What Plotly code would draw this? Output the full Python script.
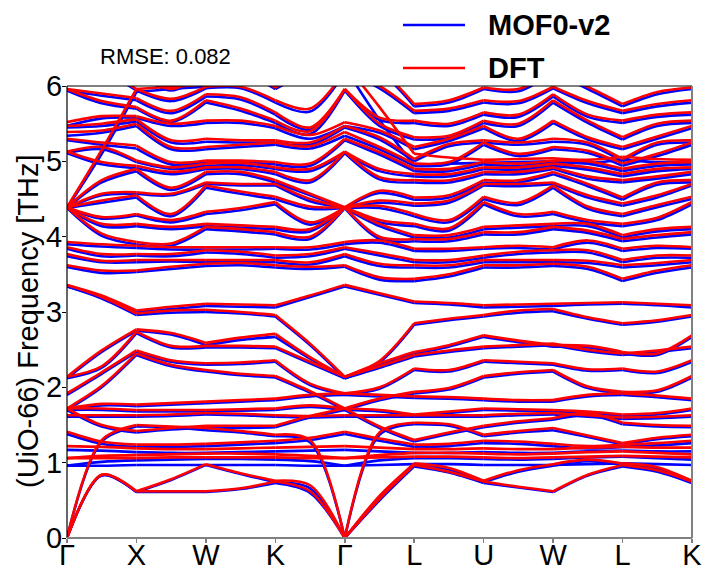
import plotly.graph_objects as go

# ---------------- path / ticks ----------------
KPATH_X = [0, 0.5, 1, 1.5, 2, 2.5, 3, 3.5, 4, 4.5, 5, 5.5, 6, 6.5, 7, 7.5, 8, 8.5, 9]
TICK_POS = [0, 1, 2, 3, 4, 5, 6, 7, 8, 9]
TICK_LABELS = ["Γ", "X", "W", "K", "Γ", "L", "U", "W", "L", "K"]
Y_TICKS = [0, 1, 2, 3, 4, 5, 6]
RMSE_TEXT = "RMSE: 0.082"
SERIES_NAMES = ["MOF0-v2", "DFT"]

# ---------------- low-frequency bands (one list per band, 19 path points) ----------------
LOW_DFT = [
    [0.00, 0.84, 0.62, 0.62, 0.62, 0.66, 0.75, 0.62, 0.00, 0.52, 0.97, 0.88, 0.75, 0.68, 0.62, 0.84, 0.97, 0.90, 0.75],
    [0.00, 0.84, 0.62, 0.78, 0.98, 0.86, 0.76, 0.70, 0.00, 0.56, 0.99, 0.93, 0.76, 0.90, 0.98, 1.04, 0.99, 0.94, 0.76],
    [0.00, 1.30, 1.50, 1.48, 1.46, 1.42, 1.37, 1.30, 0.00, 1.40, 1.53, 1.51, 1.37, 1.42, 1.46, 1.36, 1.26, 1.33, 1.37],
    [1.06, 1.06, 1.06, 1.07, 1.07, 1.07, 1.07, 1.06, 1.06, 1.07, 1.08, 1.08, 1.07, 1.06, 1.07, 1.08, 1.09, 1.08, 1.07],
    [1.06, 1.09, 1.10, 1.11, 1.12, 1.12, 1.11, 1.09, 1.06, 1.10, 1.13, 1.13, 1.12, 1.11, 1.12, 1.14, 1.15, 1.13, 1.11],
    [1.22, 1.21, 1.19, 1.18, 1.18, 1.19, 1.20, 1.21, 1.22, 1.20, 1.18, 1.18, 1.19, 1.18, 1.18, 1.20, 1.21, 1.20, 1.20],
    [1.41, 1.28, 1.24, 1.24, 1.25, 1.27, 1.29, 1.33, 1.41, 1.32, 1.24, 1.25, 1.29, 1.28, 1.25, 1.22, 1.24, 1.26, 1.29],
    [1.72, 1.50, 1.42, 1.46, 1.49, 1.49, 1.49, 1.62, 1.72, 1.48, 1.30, 1.40, 1.49, 1.55, 1.59, 1.66, 1.53, 1.50, 1.49],
    [1.63, 1.63, 1.63, 1.64, 1.66, 1.65, 1.63, 1.62, 1.63, 1.63, 1.63, 1.63, 1.63, 1.65, 1.66, 1.63, 1.60, 1.61, 1.63],
    [1.72, 1.72, 1.70, 1.70, 1.70, 1.71, 1.72, 1.76, 1.72, 1.70, 1.64, 1.68, 1.72, 1.71, 1.70, 1.68, 1.64, 1.66, 1.72],
    [1.72, 1.78, 1.77, 1.79, 1.81, 1.83, 1.85, 1.90, 1.92, 1.90, 1.88, 1.87, 1.85, 1.83, 1.83, 1.90, 1.92, 1.89, 1.85],
    [1.72, 2.02, 2.45, 2.30, 2.23, 2.18, 2.15, 1.95, 1.72, 1.85, 1.94, 1.99, 2.15, 2.20, 2.23, 2.01, 1.94, 1.96, 2.15],
    [1.92, 2.20, 2.49, 2.36, 2.32, 2.33, 2.36, 2.05, 1.92, 2.00, 2.25, 2.23, 2.36, 2.34, 2.32, 2.24, 2.25, 2.21, 2.36],
    [2.14, 2.28, 2.74, 2.55, 2.55, 2.55, 2.54, 2.34, 2.14, 2.28, 2.43, 2.49, 2.54, 2.56, 2.58, 2.50, 2.45, 2.49, 2.54],
    [2.14, 2.49, 2.77, 2.72, 2.59, 2.66, 2.71, 2.40, 2.14, 2.32, 2.47, 2.56, 2.69, 2.62, 2.56, 2.55, 2.47, 2.45, 2.69],
    [3.36, 3.20, 2.98, 3.02, 3.03, 3.00, 2.96, 2.58, 2.14, 2.35, 2.85, 2.91, 2.96, 3.02, 3.04, 2.93, 2.85, 2.89, 2.96],
    [3.36, 3.22, 3.02, 3.07, 3.11, 3.10, 3.09, 3.22, 3.36, 3.25, 3.14, 3.12, 3.09, 3.10, 3.11, 3.12, 3.13, 3.11, 3.09],
    # steep branch from the top into L, and steep branch rising from Γ to the top at X
    [6.30, 6.30, 6.30, 6.30, 6.30, 6.30, 6.30, 6.30, 6.30, 5.72, 5.10, 5.05, 5.02, 5.03, 5.04, 5.02, 5.06, 5.03, 5.02],
    [4.39, 5.15, 5.96, 5.99, 6.02, 6.15, 6.30, 6.30, 6.30, 6.30, 6.30, 6.30, 6.30, 6.30, 6.30, 6.30, 6.30, 6.30, 6.30],
]

LOW_MOF = [
    [0.00, 0.83, 0.61, 0.61, 0.61, 0.65, 0.73, 0.60, 0.00, 0.50, 0.95, 0.87, 0.73, 0.67, 0.61, 0.83, 0.95, 0.88, 0.73],
    [0.00, 0.83, 0.61, 0.77, 0.97, 0.85, 0.74, 0.66, 0.00, 0.54, 0.97, 0.91, 0.74, 0.88, 0.96, 1.02, 0.97, 0.92, 0.74],
    [0.00, 1.28, 1.48, 1.47, 1.43, 1.40, 1.35, 1.27, 0.00, 1.37, 1.51, 1.49, 1.35, 1.40, 1.43, 1.34, 1.24, 1.31, 1.35],
    [0.96, 0.96, 0.97, 0.97, 0.97, 0.97, 0.97, 0.96, 0.96, 0.97, 0.98, 0.98, 0.97, 0.97, 0.97, 0.98, 0.99, 0.98, 0.97],
    [0.96, 1.01, 1.03, 1.04, 1.05, 1.05, 1.04, 1.02, 0.96, 1.03, 1.06, 1.06, 1.05, 1.04, 1.05, 1.07, 1.08, 1.06, 1.04],
    [1.17, 1.16, 1.14, 1.13, 1.13, 1.14, 1.15, 1.16, 1.17, 1.15, 1.13, 1.13, 1.14, 1.13, 1.13, 1.15, 1.16, 1.15, 1.15],
    [1.38, 1.25, 1.21, 1.21, 1.22, 1.24, 1.26, 1.30, 1.38, 1.29, 1.21, 1.22, 1.26, 1.25, 1.22, 1.19, 1.21, 1.23, 1.26],
    [1.70, 1.48, 1.40, 1.44, 1.46, 1.46, 1.47, 1.60, 1.70, 1.46, 1.28, 1.38, 1.47, 1.53, 1.57, 1.63, 1.51, 1.48, 1.47],
    [1.61, 1.61, 1.61, 1.62, 1.64, 1.63, 1.61, 1.60, 1.61, 1.61, 1.61, 1.61, 1.61, 1.63, 1.64, 1.61, 1.58, 1.59, 1.61],
    [1.70, 1.70, 1.68, 1.68, 1.68, 1.69, 1.70, 1.74, 1.70, 1.68, 1.62, 1.66, 1.70, 1.69, 1.68, 1.66, 1.62, 1.64, 1.70],
    [1.70, 1.76, 1.75, 1.77, 1.79, 1.81, 1.83, 1.88, 1.90, 1.88, 1.86, 1.85, 1.83, 1.81, 1.81, 1.88, 1.90, 1.87, 1.83],
    [1.70, 2.00, 2.43, 2.28, 2.21, 2.16, 2.13, 1.93, 1.70, 1.83, 1.92, 1.97, 2.13, 2.18, 2.21, 1.99, 1.92, 1.94, 2.13],
    [1.90, 2.18, 2.47, 2.34, 2.30, 2.31, 2.34, 2.03, 1.90, 1.98, 2.23, 2.21, 2.34, 2.32, 2.30, 2.22, 2.23, 2.19, 2.34],
    [2.12, 2.26, 2.72, 2.53, 2.53, 2.53, 2.52, 2.32, 2.12, 2.26, 2.41, 2.47, 2.52, 2.54, 2.56, 2.48, 2.43, 2.47, 2.52],
    [2.12, 2.47, 2.75, 2.70, 2.56, 2.63, 2.67, 2.38, 2.12, 2.30, 2.45, 2.54, 2.67, 2.60, 2.54, 2.53, 2.45, 2.43, 2.67],
    [3.34, 3.18, 2.96, 2.99, 3.00, 2.98, 2.94, 2.56, 2.12, 2.33, 2.83, 2.89, 2.94, 2.99, 3.01, 2.91, 2.83, 2.87, 2.94],
    [3.34, 3.20, 3.00, 3.04, 3.08, 3.07, 3.06, 3.20, 3.34, 3.23, 3.12, 3.10, 3.06, 3.07, 3.08, 3.10, 3.11, 3.09, 3.06],
    [6.30, 6.30, 6.30, 6.30, 6.30, 6.30, 6.30, 6.30, 6.25, 5.55, 4.95, 4.97, 4.98, 4.99, 5.00, 4.98, 5.02, 4.99, 4.98],
    [4.38, 5.10, 5.92, 5.96, 5.99, 6.12, 6.30, 6.30, 6.30, 6.30, 6.30, 6.30, 6.30, 6.30, 6.30, 6.30, 6.30, 6.30, 6.30],
]

# ---------------- upper bands, stored per q-point (sorted frequencies, THz) ----------------
G_DFT   = [3.62, 3.77, 3.86, 3.93, 4.39, 4.39, 4.39, 4.39, 4.39, 4.39, 5.13, 5.13, 5.30, 5.39, 5.47, 5.52, 5.96, 5.96, 6.20, 6.30]
GX_DFT  = [3.55, 3.68, 3.77, 3.90, 4.04, 4.17, 4.26, 4.48, 4.57, 4.75, 4.99, 5.19, 5.25, 5.41, 5.50, 5.60, 5.80, 5.90, 6.20, 6.30]
X_DFT   = [3.55, 3.69, 3.77, 3.88, 3.93, 4.17, 4.30, 4.55, 4.59, 4.90, 4.94, 5.01, 5.21, 5.50, 5.56, 5.60, 5.72, 5.84, 5.96, 6.20]
XW_DFT  = [3.60, 3.69, 3.77, 3.86, 3.91, 4.13, 4.22, 4.30, 4.57, 4.65, 4.86, 4.92, 4.99, 5.19, 5.28, 5.50, 5.54, 5.67, 5.83, 5.96]
W_DFT   = [3.64, 3.69, 3.82, 3.86, 4.13, 4.17, 4.33, 4.68, 4.72, 4.86, 4.92, 4.97, 5.01, 5.19, 5.30, 5.54, 5.81, 5.89, 5.99, 6.20]
WK_DFT  = [3.65, 3.69, 3.80, 3.86, 4.10, 4.15, 4.38, 4.60, 4.70, 4.86, 4.92, 4.98, 5.01, 5.22, 5.28, 5.54, 5.70, 5.85, 5.99, 6.20]
K_DFT   = [3.62, 3.69, 3.75, 3.86, 4.06, 4.13, 4.46, 4.53, 4.70, 4.75, 4.86, 4.92, 4.99, 5.25, 5.28, 5.47, 5.54, 5.65, 5.81, 5.98]
KG_DFT  = [3.60, 3.66, 3.77, 3.86, 4.00, 4.10, 4.19, 4.40, 4.50, 4.57, 4.75, 4.90, 4.97, 5.20, 5.25, 5.35, 5.40, 5.45, 5.70, 6.20]
GL_DFT  = [3.46, 3.64, 3.78, 3.95, 4.00, 4.17, 4.22, 4.41, 4.48, 4.61, 4.79, 4.90, 5.12, 5.19, 5.32, 5.41, 5.50, 5.58, 6.00, 6.20]
L_DFT   = [3.44, 3.62, 3.69, 3.84, 3.97, 4.02, 4.17, 4.30, 4.44, 4.52, 4.75, 4.83, 4.90, 4.97, 5.03, 5.19, 5.32, 5.54, 5.67, 5.76]
LU_DFT  = [3.50, 3.62, 3.69, 3.84, 3.97, 4.02, 4.11, 4.22, 4.48, 4.55, 4.75, 4.83, 4.90, 4.99, 5.23, 5.30, 5.34, 5.50, 5.70, 5.81]
UW_DFT  = [3.62, 3.69, 3.80, 3.88, 4.06, 4.15, 4.30, 4.45, 4.70, 4.75, 4.86, 4.92, 4.97, 5.10, 5.25, 5.30, 5.50, 5.62, 5.80, 5.96]
WL_DFT  = [3.60, 3.68, 3.82, 3.95, 4.08, 4.17, 4.22, 4.40, 4.55, 4.70, 4.80, 4.92, 5.00, 5.14, 5.25, 5.32, 5.54, 5.62, 5.80, 5.99]
LK_DFT  = [3.55, 3.65, 3.75, 3.88, 4.02, 4.10, 4.25, 4.42, 4.55, 4.72, 4.80, 4.90, 4.97, 5.10, 5.25, 5.33, 5.50, 5.62, 5.76, 5.92]

G_MOF   = [3.60, 3.74, 3.84, 3.90, 4.38, 4.38, 4.38, 4.38, 4.38, 4.38, 5.11, 5.11, 5.28, 5.34, 5.45, 5.47, 5.94, 5.94, 6.18, 6.28]
GX_MOF  = [3.52, 3.66, 3.74, 3.87, 4.01, 4.14, 4.24, 4.45, 4.55, 4.72, 4.96, 5.16, 5.22, 5.38, 5.47, 5.57, 5.77, 5.87, 6.18, 6.28]
X_MOF   = [3.53, 3.66, 3.75, 3.85, 3.90, 4.14, 4.28, 4.52, 4.57, 4.87, 4.91, 4.99, 5.17, 5.47, 5.53, 5.58, 5.70, 5.81, 5.94, 6.18]
XW_MOF  = [3.57, 3.67, 3.74, 3.83, 3.88, 4.10, 4.19, 4.27, 4.55, 4.62, 4.83, 4.90, 4.96, 5.16, 5.25, 5.47, 5.52, 5.64, 5.80, 5.94]
W_MOF   = [3.61, 3.66, 3.79, 3.83, 4.10, 4.14, 4.30, 4.65, 4.70, 4.83, 4.90, 4.94, 4.99, 5.16, 5.26, 5.51, 5.78, 5.86, 5.97, 6.18]
WK_MOF  = [3.62, 3.66, 3.77, 3.83, 4.07, 4.12, 4.35, 4.57, 4.68, 4.83, 4.90, 4.95, 4.99, 5.19, 5.25, 5.51, 5.67, 5.82, 5.97, 6.18]
K_MOF   = [3.59, 3.66, 3.72, 3.84, 4.03, 4.10, 4.43, 4.50, 4.68, 4.72, 4.83, 4.90, 4.96, 5.22, 5.25, 5.44, 5.51, 5.62, 5.78, 5.96]
KG_MOF  = [3.57, 3.63, 3.74, 3.83, 3.97, 4.07, 4.16, 4.37, 4.47, 4.55, 4.72, 4.87, 4.94, 5.17, 5.22, 5.30, 5.36, 5.42, 5.66, 6.18]
GL_MOF  = [3.43, 3.61, 3.75, 3.92, 3.97, 4.14, 4.19, 4.38, 4.45, 4.58, 4.76, 4.87, 5.09, 5.16, 5.29, 5.38, 5.47, 5.55, 5.97, 6.18]
L_MOF   = [3.41, 3.59, 3.66, 3.81, 3.94, 3.99, 4.14, 4.27, 4.41, 4.49, 4.72, 4.80, 4.87, 4.94, 5.00, 5.16, 5.29, 5.51, 5.64, 5.73]
LU_MOF  = [3.47, 3.59, 3.66, 3.81, 3.94, 3.99, 4.08, 4.19, 4.45, 4.52, 4.72, 4.80, 4.87, 4.96, 5.20, 5.27, 5.31, 5.47, 5.67, 5.78]
UW_MOF  = [3.59, 3.66, 3.77, 3.85, 4.03, 4.12, 4.27, 4.42, 4.67, 4.72, 4.83, 4.89, 4.94, 5.07, 5.22, 5.27, 5.47, 5.59, 5.77, 5.93]
WL_MOF  = [3.57, 3.65, 3.79, 3.92, 4.05, 4.14, 4.19, 4.37, 4.52, 4.67, 4.77, 4.89, 4.97, 5.11, 5.22, 5.29, 5.51, 5.59, 5.77, 5.96]
LK_MOF  = [3.52, 3.62, 3.72, 3.85, 3.99, 4.07, 4.22, 4.39, 4.52, 4.69, 4.77, 4.87, 4.94, 5.07, 5.22, 5.30, 5.47, 5.59, 5.73, 5.89]

# q-point order along Γ-X-W-K-Γ-L-U-W-L-K (U is equivalent to K)
UP_DFT_Q = [G_DFT, GX_DFT, X_DFT, XW_DFT, W_DFT, WK_DFT, K_DFT, KG_DFT, G_DFT, GL_DFT,
            L_DFT, LU_DFT, K_DFT, UW_DFT, W_DFT, WL_DFT, L_DFT, LK_DFT, K_DFT]
UP_MOF_Q = [G_MOF, GX_MOF, X_MOF, XW_MOF, W_MOF, WK_MOF, K_MOF, KG_MOF, G_MOF, GL_MOF,
            L_MOF, LU_MOF, K_MOF, UW_MOF, W_MOF, WL_MOF, L_MOF, LK_MOF, K_MOF]

COLORS = {"MOF0-v2": "#0000FF", "DFT": "#FF0000"}
FONT = "Liberation Sans, Arial, sans-serif"


def band_rows(low, up_q):
    rows = [list(b) for b in low]
    rows += [list(col) for col in zip(*up_q)]
    return rows


def seg_xy(vals):
    xs, ys = [], []
    for s in range(9):
        i = 2 * s
        xs += [KPATH_X[i], KPATH_X[i + 1], KPATH_X[i + 2], None]
        ys += [vals[i], vals[i + 1], vals[i + 2], None]
    return xs, ys


fig = go.Figure()
for name, low, up in [("MOF0-v2", LOW_MOF, UP_MOF_Q), ("DFT", LOW_DFT, UP_DFT_Q)]:
    for band in band_rows(low, up):
        xs, ys = seg_xy(band)
        fig.add_trace(go.Scatter(
            x=xs, y=ys, mode="lines", showlegend=False, hoverinfo="skip",
            line=dict(color=COLORS[name], width=2.6, shape="spline", smoothing=0.9),
            connectgaps=False,
        ))

W, H = 702, 569
L_M, R_M, T_M, B_M = 67, 10, 86, 31

fig.update_layout(
    width=W, height=H,
    margin=dict(l=L_M, r=R_M, t=T_M, b=B_M, autoexpand=False),
    paper_bgcolor="white", plot_bgcolor="white",
    font=dict(family=FONT, size=29, color="black"),
    xaxis=dict(range=[0, 9], tickmode="array", tickvals=TICK_POS, ticktext=TICK_LABELS,
               showgrid=False, zeroline=False, showline=False, automargin=False,
               ticks="outside", ticklen=4, tickcolor="#808080", tickwidth=1.5,
               ticklabeloverflow="allow", ticklabelstandoff=-13,
               tickfont=dict(size=29, family=FONT)),
    yaxis=dict(range=[0, 6], tickmode="array", tickvals=Y_TICKS,
               showgrid=False, zeroline=False, showline=False, automargin=False,
               ticks="outside", ticklen=4, tickcolor="black", tickwidth=1,
               ticklabeloverflow="allow", ticklabelstandoff=-6,
               tickfont=dict(size=29, family=FONT)),
)

# frame: left/top dark, bottom/right grey
fig.add_shape(type="line", xref="paper", yref="paper", x0=0, x1=0, y0=0, y1=1,
              line=dict(color="black", width=1.2))
fig.add_shape(type="line", xref="paper", yref="paper", x0=0, x1=1, y0=1, y1=1,
              line=dict(color="black", width=1.2))
fig.add_shape(type="line", xref="paper", yref="paper", x0=0, x1=1, y0=0, y1=0,
              line=dict(color="#808080", width=2))
fig.add_shape(type="line", xref="paper", yref="paper", x0=1, x1=1, y0=0, y1=1,
              line=dict(color="#808080", width=2))

pw = W - L_M - R_M
ph = H - T_M - B_M


def px_x(px):
    return (px - L_M) / pw


def px_y(py):
    return (H - B_M - py) / ph


# y-axis title
fig.add_annotation(text="(UiO-66) Frequency [THz]", xref="paper", yref="paper",
                   x=px_x(28), y=px_y(321), textangle=-90, showarrow=False,
                   font=dict(size=29, family=FONT), xanchor="center", yanchor="middle")
# RMSE text
fig.add_annotation(text=RMSE_TEXT, xref="paper", yref="paper",
                   x=px_x(165), y=px_y(56), showarrow=False,
                   font=dict(size=22, family=FONT), xanchor="center", yanchor="middle")
# manual legend
for i, name in enumerate(SERIES_NAMES):
    yy = [25, 68][i]
    fig.add_shape(type="line", xref="paper", yref="paper",
                  x0=px_x(403), x1=px_x(465), y0=px_y(yy), y1=px_y(yy),
                  line=dict(color=COLORS[name], width=2.3))
    fig.add_annotation(text="<b>" + name + "</b>", xref="paper", yref="paper",
                       x=px_x(486), y=px_y(yy), showarrow=False, xanchor="left", yanchor="middle",
                       font=dict(size=29, family=FONT))

fig.write_html("out.html", config={"displayModeBar": False, "staticPlot": True},
               post_script="document.body.style.margin='0px';document.body.style.overflow='hidden';")
